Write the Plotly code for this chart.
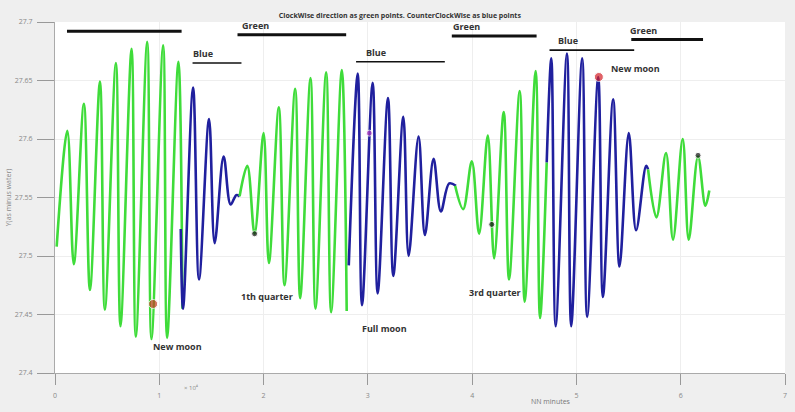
import plotly.graph_objects as go

# ---- data (x in units of 1e4 minutes) ----
green_a_x = [0.016, 0.118, 0.18, 0.277, 0.335, 0.431, 0.478, 0.584, 0.628, 0.734, 0.775, 0.884, 0.925, 1.037, 1.075, 1.183, 1.222]
green_a_y = [27.508, 27.607, 27.493, 27.630, 27.471, 27.649, 27.454, 27.665, 27.440, 27.677, 27.431, 27.683, 27.429, 27.680, 27.430, 27.666, 27.455]

blue_a_x = [1.206, 1.228, 1.324, 1.381, 1.477, 1.531, 1.617, 1.684, 1.738, 1.770]
blue_a_y = [27.523, 27.455, 27.644, 27.480, 27.617, 27.511, 27.585, 27.544, 27.552, 27.551]

green_b_x = [1.770, 1.844, 1.914, 2.000, 2.051, 2.146, 2.201, 2.303, 2.351, 2.450, 2.498, 2.600, 2.648, 2.750, 2.797]
green_b_y = [27.551, 27.577, 27.519, 27.605, 27.494, 27.627, 27.475, 27.643, 27.464, 27.652, 27.455, 27.657, 27.452, 27.659, 27.453]

blue_b_x = [2.817, 2.903, 2.944, 3.046, 3.094, 3.193, 3.244, 3.340, 3.391, 3.486, 3.547, 3.630, 3.700, 3.780, 3.844]
blue_b_y = [27.492, 27.656, 27.458, 27.648, 27.468, 27.635, 27.483, 27.619, 27.500, 27.602, 27.518, 27.583, 27.538, 27.562, 27.560]

green_c_x = [3.837, 3.914, 3.997, 4.067, 4.150, 4.211, 4.303, 4.354, 4.456, 4.504, 4.609, 4.651, 4.715]
green_c_y = [27.560, 27.540, 27.581, 27.519, 27.603, 27.498, 27.623, 27.480, 27.641, 27.461, 27.658, 27.447, 27.580]

blue_c_x = [4.715, 4.759, 4.801, 4.909, 4.950, 5.055, 5.103, 5.209, 5.254, 5.352, 5.413, 5.502, 5.572, 5.668, 5.687]
blue_c_y = [27.580, 27.669, 27.440, 27.673, 27.440, 27.669, 27.448, 27.653, 27.465, 27.634, 27.491, 27.605, 27.522, 27.577, 27.574]

green_d_x = [5.687, 5.767, 5.859, 5.926, 6.019, 6.077, 6.166, 6.236, 6.274]
green_d_y = [27.574, 27.533, 27.588, 27.514, 27.600, 27.514, 27.585, 27.543, 27.556]

dot_x = [0.941, 1.914, 3.014, 4.188, 5.215, 6.166]
dot_y = [27.459, 27.519, 27.605, 27.527, 27.653, 27.586]
dot_colors = ["#c23a1e", "#111111", "#b03cc0", "#111111", "#d42028", "#111111"]
dot_sizes = [9, 6, 6, 6, 9, 6]

phase_labels = ["New moon", "1th quarter", "Full moon", "3rd quarter", "New moon"]
phase_x = [1.176, 2.036, 3.155, 4.216, 5.564]
phase_y = [27.423, 27.465, 27.438, 27.469, 27.660]

bar_labels = ["", "Blue", "Green", "Blue", "Green", "Blue", "Green"]
bar_x0 = [0.115, 1.319, 1.750, 2.887, 3.805, 4.742, 5.526]
bar_x1 = [1.214, 1.788, 2.792, 3.738, 4.618, 5.554, 6.214]
bar_y = [27.692, 27.665, 27.689, 27.666, 27.688, 27.676, 27.685]
bar_w = [3, 1.6, 3, 1.6, 3, 1.6, 3]

y_ticks = [27.4, 27.45, 27.5, 27.55, 27.6, 27.65, 27.7]
y_tick_text = ["27.4", "27.45", "27.5", "27.55", "27.6", "27.65", "27.7"]
x_ticks = [0, 1, 2, 3, 4, 5, 6, 7]

GREEN = "#3fdc3a"
BLUE = "#20209e"

fig = go.Figure()
segments = [
    (green_a_x, green_a_y, GREEN),
    (blue_a_x, blue_a_y, BLUE),
    (green_b_x, green_b_y, GREEN),
    (blue_b_x, blue_b_y, BLUE),
    (green_c_x, green_c_y, GREEN),
    (blue_c_x, blue_c_y, BLUE),
    (green_d_x, green_d_y, GREEN),
]
for sx, sy, c in segments:
    fig.add_trace(go.Scatter(x=sx, y=sy, mode="lines",
                             line=dict(color=c, width=2.6, shape="spline", smoothing=1.0),
                             showlegend=False, hoverinfo="skip"))

fig.add_trace(go.Scatter(x=dot_x, y=dot_y, mode="markers",
                         marker=dict(color=dot_colors, size=dot_sizes),
                         showlegend=False))

LABEL_FONT = dict(family="Open Sans", size=9, color="#333333", weight="bold")

for x0, x1, y, w, lab in zip(bar_x0, bar_x1, bar_y, bar_w, bar_labels):
    fig.add_shape(type="line", x0=x0, x1=x1, y0=y, y1=y, xref="x", yref="y",
                  line=dict(color="#111111", width=w))
    if lab:
        fig.add_annotation(x=x0 + (x1 - x0) * (0.22 if lab == "Blue" else 0.17), y=y,
                           text=lab, showarrow=False, font=LABEL_FONT,
                           yanchor="bottom", yshift=1, xanchor="center")

for t, x, y in zip(phase_labels, phase_x, phase_y):
    fig.add_annotation(x=x, y=y, text=t, showarrow=False, font=LABEL_FONT)

fig.add_annotation(x=1.31, y=-0.06, xref="x", yref="paper", text="× 10⁴",
                   showarrow=False, font=dict(family="Open Sans", size=6, color="#888888"))
fig.add_annotation(x=4.76, y=-0.1, xref="x", yref="paper", text="NN minutes",
                   showarrow=False, font=dict(family="Open Sans", size=7, color="#777777"))

fig.update_layout(
    width=795, height=412,
    margin=dict(l=55, r=8, t=22, b=39),
    paper_bgcolor="#efefef",
    plot_bgcolor="#ffffff",
    title=dict(text="ClockWise direction as green points. CounterClockWise as blue points",
               x=0.503, xanchor="center", y=0.962, yanchor="middle",
               font=dict(family="Open Sans", size=7, color="#333333", weight="bold")),
    xaxis=dict(range=[0, 7], tickvals=x_ticks, ticks="outside", ticklen=11,
               tickcolor="#999999", showline=True, linecolor="#aaaaaa",
               showgrid=True, gridcolor="#eeeeee", zeroline=False, ticklabelstandoff=5,
               tickfont=dict(family="Open Sans", size=7, color="#888888")),
    yaxis=dict(range=[27.4, 27.7], tickvals=y_ticks, ticktext=y_tick_text,
               ticks="outside", ticklen=17, tickcolor="#999999", ticklabelstandoff=3,
               showline=True, linecolor="#aaaaaa", showgrid=True, gridcolor="#eeeeee",
               zeroline=False, tickfont=dict(family="Open Sans", size=7, color="#888888"),
               title=dict(text="Y(as minus water)", standoff=2,
                          font=dict(family="Open Sans", size=7, color="#888888"))),
)

fig.write_html("out.html", config={"displayModeBar": False},
               post_script="document.body.style.margin='0';document.body.style.background='#efefef';")
